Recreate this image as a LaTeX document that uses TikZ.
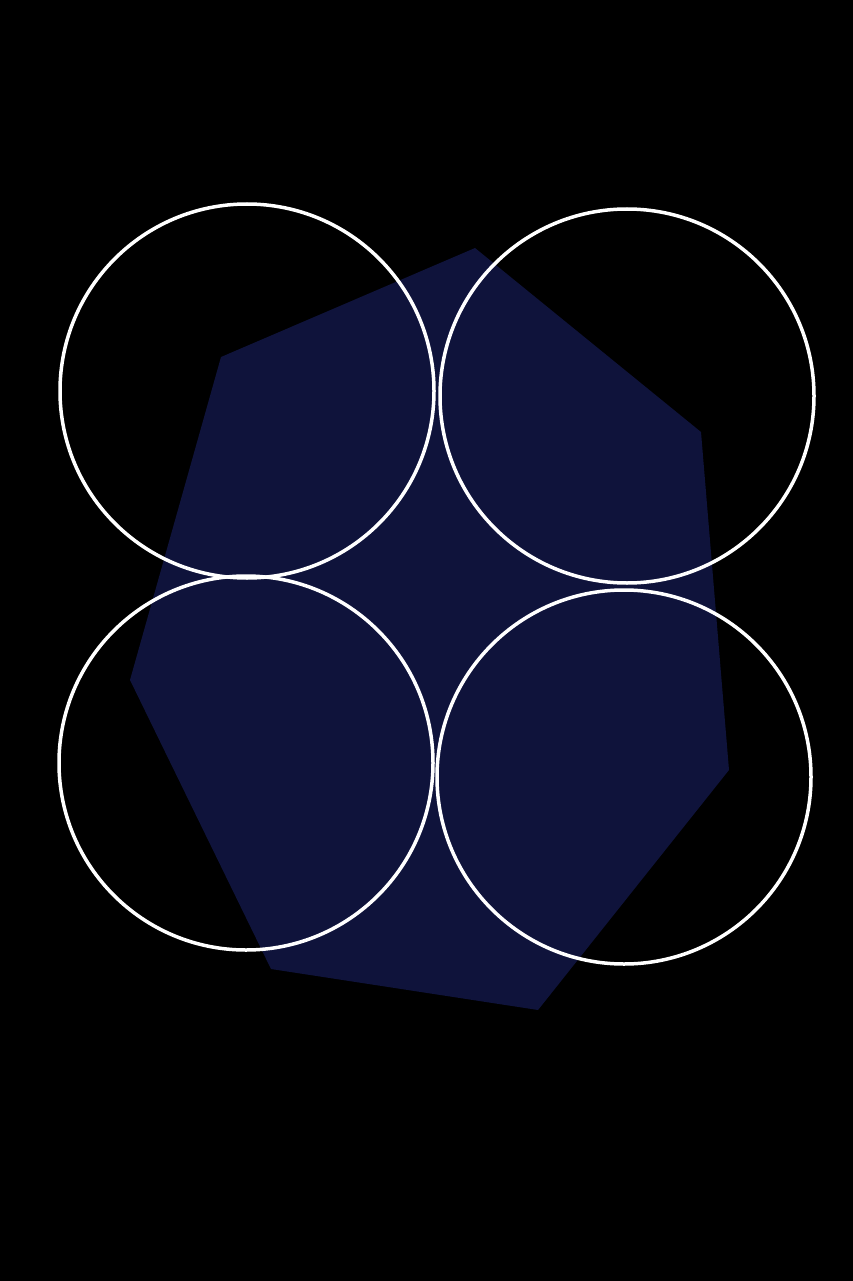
\documentclass[tikz,border=0pt]{standalone}
\usepackage{tikz}

\definecolor{navyfill}{HTML}{0F133B}

\begin{document}
\begin{tikzpicture}[x=1pt, y=-1pt]

    % Background
    \fill[black] (0,0) rectangle (853,1281);
    \useasboundingbox (0,0) rectangle (853,1281);

    \coordinate (p1) at (475,248);
    \coordinate (p2) at (701,432);
    \coordinate (p3) at (729,770);
    \coordinate (p4) at (538,1010);
    \coordinate (p5) at (271,969);
    \coordinate (p6) at (130,680);
    \coordinate (p7) at (221,357);

    % Polygon
    \fill[navyfill] (p1) -- (p2) -- (p3) -- (p4) -- (p5) -- (p6) -- (p7) -- cycle;

    \coordinate (c1) at (247,391);   % top left
    \coordinate (c2) at (627,396);   % top right
    \coordinate (c3) at (246,763);   % bottom left
    \coordinate (c4) at (624,777);   % bottom right

    % Circles
    \foreach \c in {c1,c2,c3,c4} {
        \draw[white, line width=3.5pt] (\c) circle (187);
    }

\end{tikzpicture}
\end{document}
